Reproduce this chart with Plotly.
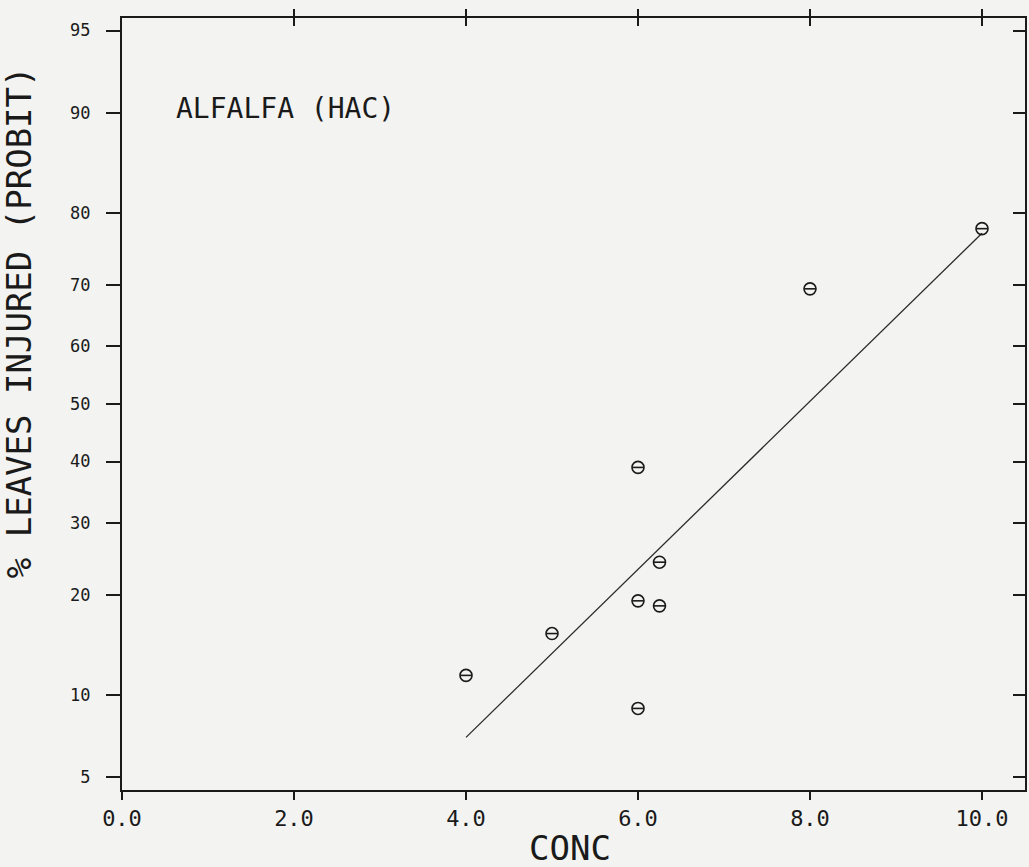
from statistics import NormalDist
import plotly.graph_objects as go

# ---- data ----
conc = [4.0, 5.0, 6.0, 6.0, 6.0, 6.25, 6.25, 8.0, 10.0]
pct_injured = [11.6, 15.6, 9.0, 19.3, 39.0, 18.7, 24.3, 69.4, 78.0]
fit_conc = [4.0, 10.0]
fit_pct = [7.1, 77.4]
y_tick_pct = [5, 10, 20, 30, 40, 50, 60, 70, 80, 90, 95]
x_tick_vals = [0.0, 2.0, 4.0, 6.0, 8.0, 10.0]
x_tick_text = ["0.0", "2.0", "4.0", "6.0", "8.0", "10.0"]

nd = NormalDist()
def probit(p):
    return nd.inv_cdf(p / 100.0)

y_pts = [probit(p) for p in pct_injured]
y_fit = [probit(p) for p in fit_pct]
y_ticks = [probit(p) for p in y_tick_pct]

FONT = "DejaVu Sans Mono"
INK = "#1a1a1a"
BG = "#f3f3f1"

fig = go.Figure()
fig.add_trace(go.Scatter(x=fit_conc, y=y_fit, mode="lines",
                         line=dict(color="#2a2a2a", width=1.3),
                         showlegend=False, hoverinfo="skip"))
fig.add_trace(go.Scatter(x=conc, y=y_pts, mode="markers",
                         marker=dict(symbol="circle-open", size=12, color=INK,
                                     line=dict(width=1.6, color=INK)),
                         showlegend=False))
fig.add_trace(go.Scatter(x=conc, y=y_pts, mode="markers",
                         marker=dict(symbol="line-ew", size=8, color=INK,
                                     line=dict(width=1.6, color=INK)),
                         showlegend=False, hoverinfo="skip"))

YR = [-1.70, 1.70]
XR = [0, 10.5]

fig.update_layout(
    width=1029, height=867,
    margin=dict(l=122, r=4, t=18, b=77),
    paper_bgcolor=BG, plot_bgcolor=BG,
    font=dict(family=FONT, color=INK),
    xaxis=dict(range=XR, tickvals=x_tick_vals, ticktext=x_tick_text,
               ticks="outside", ticklen=8, tickwidth=1.5, tickcolor=INK,
               showline=True, linecolor=INK, linewidth=2,
               showgrid=False, zeroline=False,
               tickfont=dict(family=FONT, size=22, color=INK)),
    yaxis=dict(range=YR, tickvals=y_ticks, ticktext=[str(p) for p in y_tick_pct],
               ticks="outside", ticklen=14, tickwidth=1.5, tickcolor=INK,
               showline=True, linecolor=INK, linewidth=2,
               showgrid=False, zeroline=False, ticklabelstandoff=12,
               tickfont=dict(family=FONT, size=17, color=INK)),
    xaxis2=dict(range=XR, overlaying="x", side="top", tickvals=x_tick_vals[1:],
                ticks="outside", ticklen=7, tickwidth=1.5, tickcolor=INK,
                showticklabels=False, showline=True, linecolor=INK, linewidth=2,
                showgrid=False, zeroline=False),
    xaxis3=dict(range=XR, overlaying="x", side="top", tickvals=x_tick_vals[1:],
                ticks="inside", ticklen=8, tickwidth=1.5, tickcolor=INK,
                showticklabels=False, showline=False,
                showgrid=False, zeroline=False),
    yaxis2=dict(range=YR, overlaying="y", side="right", tickvals=y_ticks,
                ticks="inside", ticklen=12, tickwidth=1.5, tickcolor=INK,
                showticklabels=False, showline=True, linecolor=INK, linewidth=2,
                showgrid=False, zeroline=False),
    annotations=[
        dict(text="% LEAVES INJURED (PROBIT)", textangle=-90,
             xref="paper", yref="paper", x=-0.114, y=0.606,
             xanchor="center", yanchor="middle", showarrow=False,
             font=dict(family=FONT, size=34, color=INK)),
        dict(text="CONC", xref="paper", yref="paper", x=0.496, y=-0.075,
             xanchor="center", yanchor="middle", showarrow=False,
             font=dict(family=FONT, size=34, color=INK)),
        dict(text="ALFALFA (HAC)", xref="paper", yref="paper", x=0.058, y=0.883,
             xanchor="left", yanchor="middle", showarrow=False,
             font=dict(family=FONT, size=28, color=INK)),
    ],
)
# dummy traces to activate the secondary axes
fig.add_trace(go.Scatter(x=[None], y=[None], xaxis="x2", yaxis="y2",
                         showlegend=False, hoverinfo="skip"))
fig.add_trace(go.Scatter(x=[None], y=[None], xaxis="x3", yaxis="y",
                         showlegend=False, hoverinfo="skip"))

fig.write_html("out.html")
